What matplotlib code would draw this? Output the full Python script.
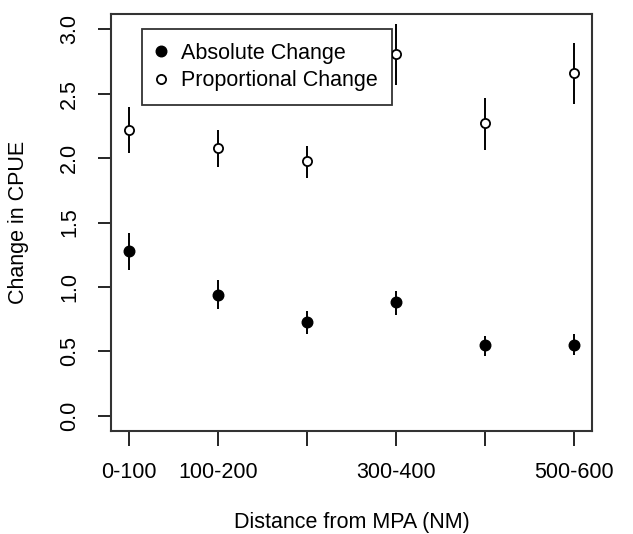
import matplotlib
matplotlib.use("Agg")
import matplotlib.pyplot as plt
from matplotlib.lines import Line2D

plt.rcParams['font.family'] = ['Liberation Sans', 'DejaVu Sans']

categories = ["0-100", "100-200", "200-300", "300-400", "400-500", "500-600"]
tick_labels = ["0-100", "100-200", "", "300-400", "", "500-600"]
x = [1, 2, 3, 4, 5, 6]

abs_mean = [1.28, 0.94, 0.725, 0.88, 0.545, 0.55]
abs_low = [1.13, 0.825, 0.637, 0.78, 0.465, 0.468]
abs_high = [1.42, 1.05, 0.81, 0.97, 0.622, 0.63]

prop_mean = [2.22, 2.08, 1.975, 2.81, 2.27, 2.66]
prop_low = [2.04, 1.935, 1.845, 2.57, 2.065, 2.42]
prop_high = [2.40, 2.215, 2.095, 3.045, 2.465, 2.895]

yticks = [0.0, 0.5, 1.0, 1.5, 2.0, 2.5, 3.0]

fs = 15.5
fig = plt.figure(figsize=(6.33, 5.34), dpi=100)
ax = fig.add_axes([111/633, 1 - 431/534, (592-111)/633, (431-14)/534])

ax.vlines(x, abs_low, abs_high, colors='black', linewidth=1.4)
ax.vlines(x, prop_low, prop_high, colors='black', linewidth=1.4)
ax.plot(x, abs_mean, 'o', color='black', markersize=7.6, linestyle='none')
ax.plot(x, prop_mean, 'o', markerfacecolor='white', markeredgecolor='black',
        markeredgewidth=1.3, markersize=6.6, linestyle='none')

ax.set_xlim(0.8, 6.2)
ax.set_ylim(-0.12, 3.12)
ax.set_xticks(x)
ax.set_xticklabels(tick_labels, fontsize=fs)
ax.set_yticks(yticks)
ax.set_yticklabels([f"{v:.1f}" for v in yticks], fontsize=fs, rotation=90, va='center')
ax.tick_params(axis='x', length=10.5, width=1.2, pad=12, colors='black')
ax.tick_params(axis='y', length=9.7, width=1.2, pad=12.5, colors='black')
for s in ax.spines.values():
    s.set_linewidth(1.5)
    s.set_color('#333333')
ax.set_xlabel("Distance from MPA (NM)", fontsize=fs, labelpad=21)
ax.set_ylabel("Change in CPUE", fontsize=fs, labelpad=22)

handles = [Line2D([], [], marker='o', color='black', linestyle='none', markersize=7.6),
           Line2D([], [], marker='o', markerfacecolor='white', markeredgecolor='black',
                  markeredgewidth=1.3, linestyle='none', markersize=6.6)]
leg = ax.legend(handles, ["Absolute Change", "Proportional Change"], loc='upper left',
                bbox_to_anchor=((142-111)/481, 1 - (29-14)/417), fontsize=fs,
                frameon=True, fancybox=False, edgecolor='black', borderpad=0.65,
                handletextpad=0.74, handlelength=0.42, labelspacing=0.3, borderaxespad=0)
leg.get_frame().set_linewidth(1.3)

fig.savefig("out.png", dpi=100)
